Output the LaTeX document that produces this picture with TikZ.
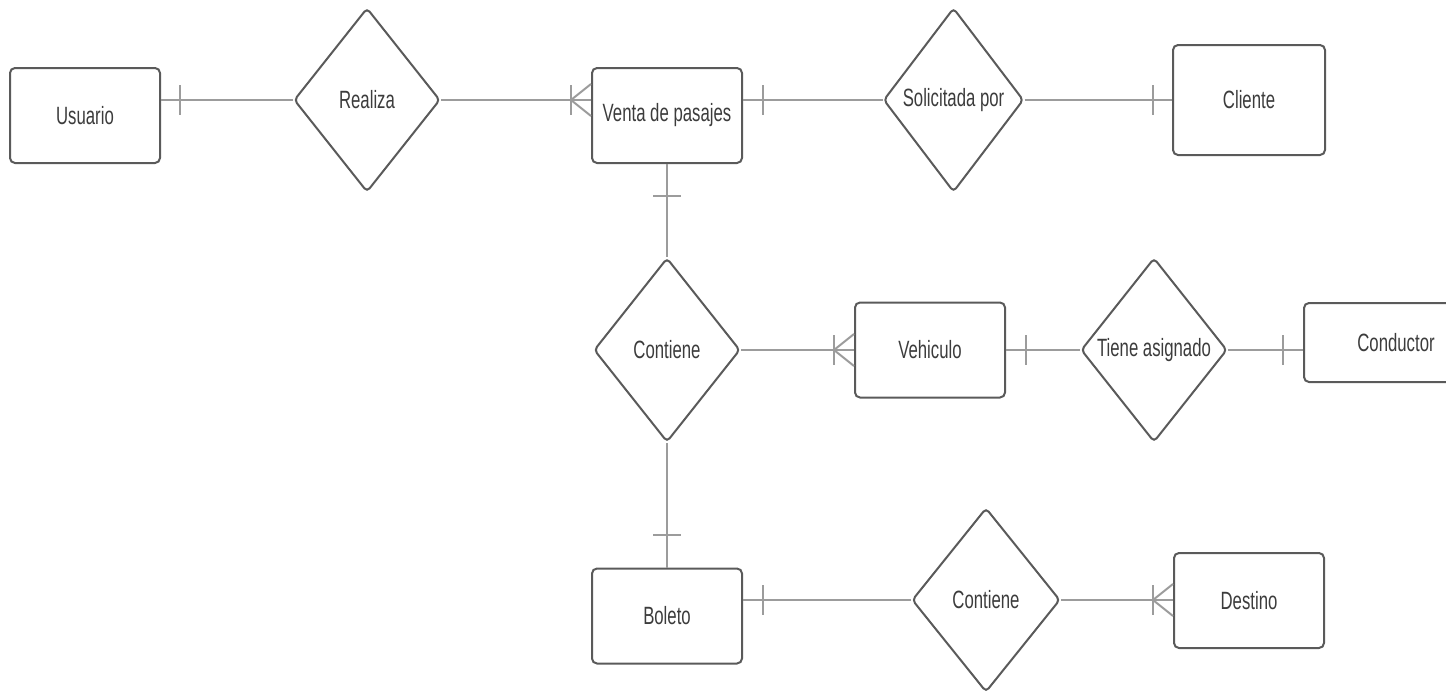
\documentclass[tikz,border=0pt]{standalone}
\usepackage{fontspec}
\setmainfont{Liberation Sans}[FakeStretch=0.67]
\usetikzlibrary{shapes.geometric,calc}
\definecolor{boxc}{HTML}{5A5A5A}
\definecolor{linec}{HTML}{9C9C9C}
\definecolor{txtc}{HTML}{3C3C3C}
\begin{document}
\begin{tikzpicture}[x=1pt,y=-1pt,
  lbl/.style={text=txtc,font=\fontsize{25}{30}\selectfont},
  entity/.style={lbl,draw=boxc,line width=2pt,rounded corners=5pt,
    minimum width=150pt,minimum height=95pt,inner sep=0pt},
  rel/.style={lbl,diamond,draw=boxc,line width=2pt,rounded corners=4pt,
    minimum width=146pt,minimum height=184pt,inner sep=0pt},
  conn/.style={draw=linec,line width=2pt}]
\useasboundingbox (0,0) rectangle (1446,691);
\clip (0,0) rectangle (1446,691);

% entities and relationships
\node[entity] (usuario) at (85,115.5) {Usuario};
\node[rel] (realiza) at (367,100) {Realiza};
\node[entity] (venta) at (667,115.5) {Venta de pasajes};
\node[rel,minimum width=140pt] (solicitada) at (953.5,100) {Solicitada por};
\node[entity,minimum height=110pt,minimum width=152pt] (cliente) at (1249,100) {Cliente};
\node[rel] (contiene) at (667,350) {Contiene};
\node[entity] (vehiculo) at (930,350) {Vehiculo};
\node[rel] (tiene) at (1154,350) {Tiene asignado};
\node[entity,minimum height=79pt,minimum width=184pt] (conductor) at (1396,342.5) {Conductor};
\node[entity] (boleto) at (667,616) {Boleto};
\node[rel,minimum width=148pt] (contiene2) at (986,600) {Contiene};
\node[entity] (destino) at (1249,600.5) {Destino};

% Usuario -- Realiza (one)
\coordinate (a1) at (realiza.west -| usuario.east);
\draw[conn] (realiza.west) -- (a1);
\draw[conn] ($(a1)+(19,-15)$) -- ($(a1)+(19,15)$);

% Realiza -- Venta de pasajes (many)
\coordinate (a2) at (realiza.east -| venta.west);
\draw[conn] (realiza.east) -- (a2);
\draw[conn] ($(a2)+(-20,-15)$) -- ($(a2)+(-20,15)$);
\draw[conn] ($(a2)+(0,-16)$) -- ($(a2)+(-20,0)$) -- ($(a2)+(0,16)$);

% Venta de pasajes -- Solicitada por (one)
\coordinate (a3) at (solicitada.west -| venta.east);
\draw[conn] (solicitada.west) -- (a3);
\draw[conn] ($(a3)+(20,-15)$) -- ($(a3)+(20,15)$);

% Solicitada por -- Cliente (one)
\coordinate (a4) at (solicitada.east -| cliente.west);
\draw[conn] (solicitada.east) -- (a4);
\draw[conn] ($(a4)+(-19,-15)$) -- ($(a4)+(-19,15)$);

% Venta de pasajes -- Contiene (one)
\draw[conn] (venta.south) -- (contiene.north);
\draw[conn] ($(venta.south)+(-14,32)$) -- ($(venta.south)+(14,32)$);

% Contiene -- Vehiculo (many)
\coordinate (a5) at (contiene.east -| vehiculo.west);
\draw[conn] (contiene.east) -- (a5);
\draw[conn] ($(a5)+(-20,-15)$) -- ($(a5)+(-20,15)$);
\draw[conn] ($(a5)+(0,-16)$) -- ($(a5)+(-20,0)$) -- ($(a5)+(0,16)$);

% Vehiculo -- Tiene asignado (one)
\coordinate (a6) at (tiene.west -| vehiculo.east);
\draw[conn] (tiene.west) -- (a6);
\draw[conn] ($(a6)+(20,-15)$) -- ($(a6)+(20,15)$);

% Tiene asignado -- Conductor (one)
\coordinate (a7) at (tiene.east -| conductor.west);
\draw[conn] (tiene.east) -- (a7);
\draw[conn] ($(a7)+(-20,-15)$) -- ($(a7)+(-20,15)$);

% Contiene -- Boleto (one)
\draw[conn] (contiene.south) -- (boleto.north);
\draw[conn] ($(boleto.north)+(-14,-33)$) -- ($(boleto.north)+(14,-33)$);

% Boleto -- Contiene (one)
\coordinate (a8) at (contiene2.west -| boleto.east);
\draw[conn] (contiene2.west) -- (a8);
\draw[conn] ($(a8)+(20,-15)$) -- ($(a8)+(20,15)$);

% Contiene -- Destino (many)
\coordinate (a9) at (contiene2.east -| destino.west);
\draw[conn] (contiene2.east) -- (a9);
\draw[conn] ($(a9)+(-20,-15)$) -- ($(a9)+(-20,15)$);
\draw[conn] ($(a9)+(0,-16)$) -- ($(a9)+(-20,0)$) -- ($(a9)+(0,16)$);
\end{tikzpicture}
\end{document}
